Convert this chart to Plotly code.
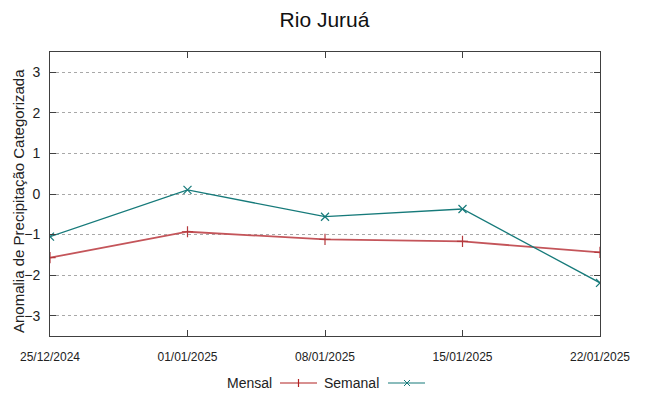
import plotly.graph_objects as go

dates = ["2024-12-25", "2025-01-01", "2025-01-08", "2025-01-15", "2025-01-22"]
tick_labels = ["25/12/2024", "01/01/2025", "08/01/2025", "15/01/2025", "22/01/2025"]
mensal = [-1.57, -0.93, -1.12, -1.17, -1.44]
semanal = [-1.05, 0.10, -0.56, -0.37, -2.19]
y_ticks = [-3, -2, -1, 0, 1, 2, 3]

RED = "#c4555a"
TEAL = "#167a7a"
FONT = "Liberation Sans"

fig = go.Figure()
fig.add_trace(go.Scatter(
    x=dates, y=mensal, mode="lines+markers", name="Mensal",
    line=dict(color=RED, width=1.8),
    marker=dict(symbol="cross-thin", size=8, line=dict(color="#b53a3e", width=1.2)),
    showlegend=False))
fig.add_trace(go.Scatter(
    x=dates, y=semanal, mode="lines+markers", name="Semanal",
    line=dict(color=TEAL, width=1.3),
    marker=dict(symbol="x-thin", size=8, line=dict(color=TEAL, width=1.2)),
    showlegend=False))

ann_y = 383
def px_x(p):
    return (p - 50) / 550.0
def px_y(p):
    return (336 - p) / 284.0

fig.add_annotation(x=px_x(18), y=px_y(201), xref="paper", yref="paper", xanchor="center",
                   yanchor="middle", textangle=-90,
                   text="Anomalia de Precipitação Categorizada", showarrow=False,
                   font=dict(family=FONT, size=15, color="#222"))
fig.add_annotation(x=px_x(274), y=px_y(ann_y), xref="paper", yref="paper", xanchor="right",
                   yanchor="middle", text="Mensal", showarrow=False,
                   font=dict(family=FONT, size=14, color="#222"))
fig.add_annotation(x=px_x(381), y=px_y(ann_y), xref="paper", yref="paper", xanchor="right",
                   yanchor="middle", text="Semanal", showarrow=False,
                   font=dict(family=FONT, size=14, color="#222"))
fig.add_shape(type="line", xref="paper", yref="paper", x0=px_x(280), x1=px_x(317),
              y0=px_y(ann_y), y1=px_y(ann_y), line=dict(color="#b22222", width=1.2))
fig.add_shape(type="line", xref="paper", yref="paper", x0=px_x(298.5), x1=px_x(298.5),
              y0=px_y(ann_y - 4), y1=px_y(ann_y + 4), line=dict(color="#b22222", width=1.2))
fig.add_shape(type="line", xref="paper", yref="paper", x0=px_x(388), x1=px_x(425),
              y0=px_y(ann_y), y1=px_y(ann_y), line=dict(color=TEAL, width=1.2))
fig.add_shape(type="line", xref="paper", yref="paper", x0=px_x(404), x1=px_x(410),
              y0=px_y(ann_y - 3), y1=px_y(ann_y + 3), line=dict(color=TEAL, width=1))
fig.add_shape(type="line", xref="paper", yref="paper", x0=px_x(404), x1=px_x(410),
              y0=px_y(ann_y + 3), y1=px_y(ann_y - 3), line=dict(color=TEAL, width=1))

fig.update_layout(
    width=649, height=396,
    margin=dict(l=50, r=49, t=52, b=60, autoexpand=False),
    paper_bgcolor="white", plot_bgcolor="white",
    font=dict(family=FONT, color="#222"),
    title=dict(text="Rio Juruá", x=0.5, xanchor="center", y=1 - 20 / 396, yanchor="middle",
               font=dict(family=FONT, size=21, color="#111")),
    showlegend=False,
    xaxis=dict(
        type="date", range=[dates[0], dates[-1]],
        tickvals=dates, ticktext=tick_labels,
        tickfont=dict(family=FONT, size=12, color="#222"),
        ticks="inside", ticklen=6, tickcolor="#404040",
        showgrid=False, zeroline=False, automargin=False,
        showline=True, linecolor="#404040", linewidth=1, mirror="ticks",
        ticklabelstandoff=10,
    ),
    yaxis=dict(
        range=[-3.5, 3.5], tickvals=y_ticks,
        tickfont=dict(family=FONT, size=14, color="#222"),
        ticks="inside", ticklen=6, tickcolor="#404040",
        showgrid=True, gridcolor="#a8a8a8", griddash="dot", gridwidth=1,
        zeroline=False, automargin=False, ticklabelstandoff=6,
        showline=True, linecolor="#404040", linewidth=1, mirror="ticks",
    ),
)

fig.write_html("out.html", config={"displayModeBar": False},
               post_script="document.body.style.margin='0';")
